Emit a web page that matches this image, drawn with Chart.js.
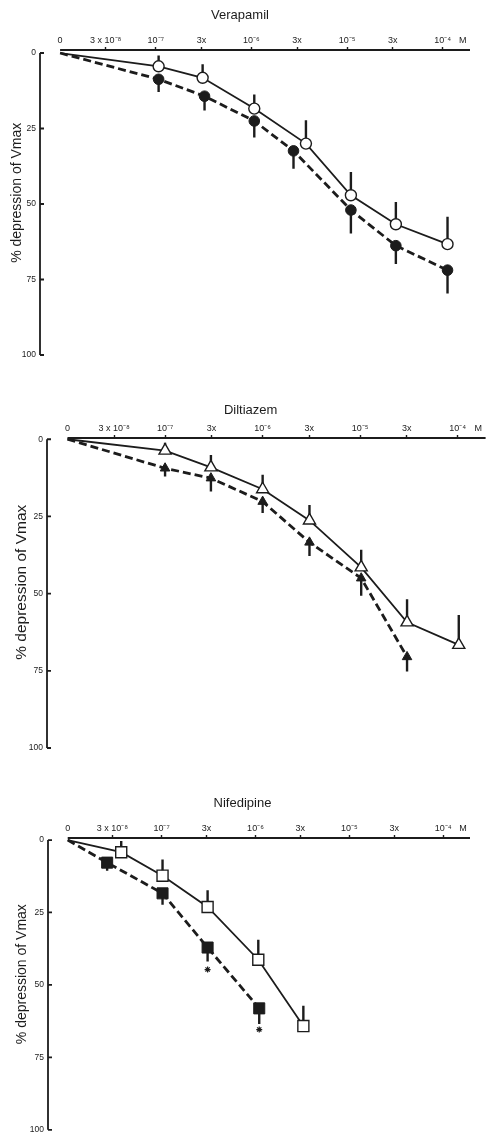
<!DOCTYPE html>
<html>
<head>
<meta charset="utf-8">
<script src="https://cdn.jsdelivr.net/npm/chart.js@4.4.1/dist/chart.umd.min.js"></script>
<style>
  body { margin: 0; background: #fff; }
  canvas { position: absolute; left: 0; }
</style>
</head>
<body>
<canvas id="vera" width="494" height="380" style="top:0px"></canvas>
<canvas id="dilt" width="494" height="380" style="top:380px"></canvas>
<canvas id="nife" width="494" height="379" style="top:760px"></canvas>
<script>
// ejes comunes (x en log10 de la concentración molar, "0" = control)
const xTickVals = [-8, -7.523, -7, -6.523, -6, -5.523, -5, -4.523, -4, -3.79];
const xTickLabels = ['0', '3 x 10⁻⁸', '10⁻⁷', '3x', '10⁻⁶', '3x', '10⁻⁵', '3x', '10⁻⁴', 'M'];
const yTickVals = [0, 25, 50, 75, 100];

// Verapamil
const veraOpenX = [-8, -6.97, -6.51, -5.97, -5.43, -4.96, -4.49, -3.95];
const veraOpen = [0, 4.4, 8.2, 18.4, 30.0, 47.1, 56.7, 63.3];
const veraOpenErr = [null, 0.8, 3.7, 13.7, 22.3, 39.4, 49.3, 54.2];
const veraFilledX = [-8, -6.97, -6.49, -5.97, -5.56, -4.96, -4.49, -3.95];
const veraFilled = [0, 8.7, 14.3, 22.5, 32.4, 52.0, 63.8, 71.9];
const veraFilledErr = [null, 12.9, 19.0, 28.0, 38.3, 59.8, 69.9, 79.6];

// Diltiazem
const diltOpenX = [-8, -7.0, -6.53, -6.0, -5.52, -4.99, -4.52, -3.99];
const diltOpen = [0, 3.7, 9.1, 16.2, 26.3, 41.5, 59.3, 66.6];
const diltOpenErr = [null, 1.1, 5.1, 11.5, 21.3, 35.8, 51.8, 56.9];
const diltFilledX = [-8, -7.0, -6.53, -6.0, -5.52, -4.99, -4.52];
const diltFilled = [0, 9.4, 12.6, 20.2, 33.4, 45.0, 70.5];
const diltFilledErr = [null, 12.1, 16.9, 23.9, 37.8, 50.7, 75.2];

// Nifedipine
const nifeOpenX = [-8, -7.43, -6.99, -6.51, -5.97, -5.49];
const nifeOpen = [0, 4.2, 12.3, 23.1, 41.3, 64.2];
const nifeOpenErr = [null, 0.3, 6.7, 17.3, 34.4, 57.2];
const nifeFilledX = [-8, -7.58, -6.99, -6.51, -5.96];
const nifeFilled = [0, 7.8, 18.4, 37.1, 58.1];
const nifeFilledErr = [null, 10.6, 22.3, 41.9, 63.5];
const nifeSigX = [-6.51, -5.96];
const nifeSigY = [44.7, 65.4];

const INK = '#1c1c1c';
const W = 494;
Chart.defaults.font.family = "'Liberation Sans', Arial, Helvetica, sans-serif";
Chart.defaults.color = INK;

function pts(xs, ys) {
  return xs.map((x, i) => ({ x: x, y: ys[i] }));
}

// barras de error de un solo lado: segmentos separados por huecos
function errSegs(xs, ys, es) {
  const out = [];
  xs.forEach((x, i) => {
    if (es[i] == null) return;
    out.push({ x: x, y: ys[i] }, { x: x, y: es[i] }, { x: x, y: null });
  });
  return out;
}

// línea del eje x desde el "0" y eje y con marcas hacia dentro
const axisLines = {
  id: 'axisLines',
  beforeDatasetsDraw(chart) {
    const { ctx, chartArea } = chart;
    const x = chart.scales.x, y = chart.scales.y;
    ctx.save();
    ctx.strokeStyle = INK;
    ctx.lineWidth = 1.8;
    ctx.beginPath();
    ctx.moveTo(x.getPixelForValue(xTickVals[0]), chartArea.top);
    ctx.lineTo(chartArea.right, chartArea.top);
    ctx.moveTo(chartArea.left, y.getPixelForValue(0));
    ctx.lineTo(chartArea.left, y.getPixelForValue(100));
    yTickVals.forEach((v) => {
      const py = y.getPixelForValue(v);
      ctx.moveTo(chartArea.left, py);
      ctx.lineTo(chartArea.left + 4, py);
    });
    ctx.stroke();
    ctx.restore();
  },
};

function makePanel(id, title, p, d) {
  const titleSize = 13;
  const titlePad = p.titleY - titleSize * 0.6;
  const titleBox = titlePad + titleSize * 1.2;
  const padLeft = p.yTitleX - p.yTitleSize / 2;

  const datasets = [
    {
      data: pts(d.openX, d.open),
      borderColor: INK,
      borderWidth: 1.8,
      pointStyle: d.style,
      pointRadius: (c) => (c.dataIndex === 0 ? 0 : d.openR),
      pointBackgroundColor: '#fff',
      pointBorderColor: INK,
      pointBorderWidth: 1.4,
    },
    {
      data: pts(d.filledX, d.filled),
      borderColor: INK,
      borderWidth: 2.8,
      borderDash: [8, 4],
      pointStyle: d.style,
      pointRadius: (c) => (c.dataIndex === 0 ? 0 : d.filledR),
      pointBackgroundColor: INK,
      pointBorderColor: INK,
      pointBorderWidth: 1,
    },
    {
      data: errSegs(d.openX, d.open, d.openErr),
      borderColor: INK,
      borderWidth: 2.4,
      pointRadius: 0,
      spanGaps: false,
    },
    {
      data: errSegs(d.filledX, d.filled, d.filledErr),
      borderColor: INK,
      borderWidth: 2.4,
      pointRadius: 0,
      spanGaps: false,
    },
  ];
  if (d.sigX) {
    datasets.push({
      data: pts(d.sigX, d.sigY),
      showLine: false,
      pointStyle: 'star',
      pointRadius: 3,
      pointBorderWidth: 1.2,
      pointBorderColor: INK,
    });
  }

  new Chart(document.getElementById(id), {
    type: 'line',
    data: { datasets: datasets },
    plugins: [axisLines],
    options: {
      responsive: false,
      animation: false,
      layout: {
        padding: { left: padLeft, right: W - p.right, top: 0, bottom: p.h - p.bottom },
      },
      elements: { line: { tension: 0 } },
      plugins: {
        legend: { display: false },
        tooltip: { enabled: false },
        title: {
          display: true,
          text: title,
          font: { size: titleSize, lineHeight: 1.2, weight: 'normal' },
          padding: { top: titlePad, bottom: 0 },
          color: INK,
        },
      },
      scales: {
        x: {
          type: 'linear',
          position: 'top',
          min: -8.21,
          max: -3.715,
          border: { display: false },
          grid: {
            drawOnChartArea: false,
            tickLength: 3,
            tickWidth: 1.4,
            tickColor: (c) => (c.index === 0 || c.index === xTickVals.length - 1 ? 'rgba(0,0,0,0)' : INK),
          },
          ticks: {
            autoSkip: false,
            maxRotation: 0,
            minRotation: 0,
            padding: 1,
            font: { size: 9 },
            callback: (v, i) => xTickLabels[i],
          },
          afterBuildTicks: (s) => {
            s.ticks = xTickVals.map((v) => ({ value: v }));
          },
          afterFit: (s) => {
            s.height = p.top - titleBox;
            s.paddingLeft = 0;
            s.paddingRight = 0;
          },
        },
        y: {
          type: 'linear',
          reverse: true,
          min: p.yMin,
          max: 100,
          border: { display: false },
          grid: { display: false, drawTicks: false },
          ticks: {
            padding: 4,
            font: { size: 8.5 },
          },
          title: {
            display: true,
            // los espacios iniciales suben el texto como en el original
            text: '     % depression of Vmax',
            font: { size: p.yTitleSize, lineHeight: 1 },
            padding: 0,
            color: INK,
          },
          afterBuildTicks: (s) => {
            s.ticks = yTickVals.map((v) => ({ value: v }));
          },
          afterFit: (s) => {
            s.width = p.left - padLeft;
            s.paddingTop = 0;
            s.paddingBottom = 0;
          },
        },
      },
    },
  });
}

makePanel('vera', 'Verapamil',
  { h: 380, left: 40, right: 470, top: 50, bottom: 355, titleY: 15, yTitleX: 17, yTitleSize: 14, yMin: -1 },
  { style: 'circle', openR: 5.5, filledR: 5.3,
    openX: veraOpenX, open: veraOpen, openErr: veraOpenErr,
    filledX: veraFilledX, filled: veraFilled, filledErr: veraFilledErr });

makePanel('dilt', 'Diltiazem',
  { h: 380, left: 47, right: 487, top: 58, bottom: 368, titleY: 30, yTitleX: 22, yTitleSize: 15.5, yMin: -0.4 },
  { style: 'triangle', openR: 7, filledR: 5.5,
    openX: diltOpenX, open: diltOpen, openErr: diltOpenErr,
    filledX: diltFilledX, filled: diltFilled, filledErr: diltFilledErr });

makePanel('nife', 'Nifedipine',
  { h: 379, left: 48, right: 470, top: 78, bottom: 378, titleY: 43, yTitleX: 22, yTitleSize: 14, yMin: -0.7 },
  { style: 'rect', openR: 7.8, filledR: 7.8,
    openX: nifeOpenX, open: nifeOpen, openErr: nifeOpenErr,
    filledX: nifeFilledX, filled: nifeFilled, filledErr: nifeFilledErr,
    sigX: nifeSigX, sigY: nifeSigY });
</script>
</body>
</html>
